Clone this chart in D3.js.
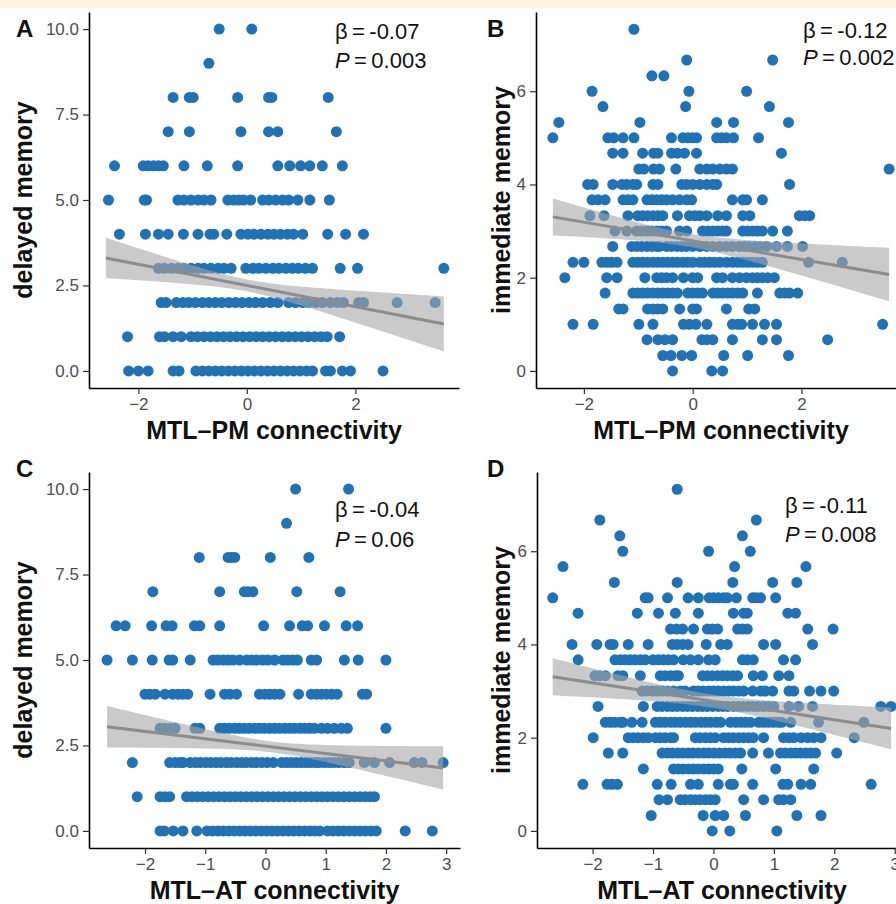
<!DOCTYPE html>
<html>
<head>
<meta charset="utf-8">
<script src="https://cdn.jsdelivr.net/npm/d3@7"></script>
<style>
  body { margin: 0; background: #fff; }
  svg { display: block; }
  text { font-family: "Liberation Sans", Arial, sans-serif; }
</style>
</head>
<body>
<svg id="chart" width="896" height="904"></svg>
<script>
// ---- data: [memory score, [connectivity values...]] per row ----
const delayedPM = [
  [10, [-0.51, 0.09]],
  [9, [-0.70]],
  [8, [-1.36, -1.06, -0.99, -0.17, 0.40, 0.46, 1.50]],
  [7, [-1.45, -1.06, -0.11, 0.40, 0.57, 1.65]],
  [6, [-2.44, -1.91, -1.82, -1.72, -1.63, -1.54, -1.16, -0.73, -0.17, 0.57, 0.79, 0.99, 1.16, 1.39, 1.76]],
  [5, [-2.55, -1.89, -1.85, -1.27, -1.16, -1.03, -0.90, -0.79, -0.66, -0.35, -0.24, -0.15, -0.06, 0.07, 0.29, 0.40, 0.53, 0.66, 0.77, 0.94, 1.16, 1.52]],
  [4, [-2.35, -1.87, -1.63, -1.45, -1.17, -0.90, -0.68, -0.61, -0.37, -0.11, 0.02, 0.13, 0.26, 0.39, 0.50, 0.62, 0.75, 0.86, 1.03, 1.49, 1.82, 2.15]],
  [3, [-1.63, -1.52, -1.39, -1.27, -1.16, -1.03, -0.90, -0.79, -0.66, -0.53, -0.42, -0.29, -0.02, 0.11, 0.22, 0.35, 0.48, 0.59, 0.72, 0.84, 0.95, 1.08, 1.21, 1.72, 2.04, 3.63]],
  [2, [-1.58, -1.49, -1.30, -1.18, -1.07, -0.95, -0.82, -0.70, -0.58, -0.46, -0.33, -0.21, -0.09, 0.04, 0.16, 0.29, 0.43, 0.57, 0.77, 0.90, 1.03, 1.14, 1.27, 1.39, 1.54, 1.67, 1.78, 2.06, 2.15, 2.77, 3.47]],
  [1, [-2.20, -1.61, -1.52, -1.36, -1.21, -1.03, -0.91, -0.79, -0.67, -0.55, -0.43, -0.31, -0.19, -0.07, 0.05, 0.17, 0.29, 0.41, 0.53, 0.65, 0.77, 0.89, 1.01, 1.13, 1.25, 1.37, 1.48, 1.71]],
  [0, [-2.18, -2.00, -1.82, -1.36, -1.25, -0.94, -0.82, -0.70, -0.58, -0.46, -0.34, -0.22, -0.10, 0.02, 0.14, 0.26, 0.38, 0.50, 0.62, 0.74, 0.86, 0.98, 1.10, 1.21, 1.45, 1.54, 1.76, 1.91, 2.51]]
];

const immediatePM = [
  [7.33, [-1.08]],
  [6.67, [-0.11, 1.47]],
  [6.33, [-0.75, -0.53]],
  [6, [-1.85, -0.07, 0.99]],
  [5.67, [-1.65, -0.13, 1.41]],
  [5.33, [-2.46, -0.97, 0.44, 0.75, 1.76]],
  [5, [-2.57, -1.56, -1.45, -1.28, -1.08, -0.39, -0.18, -0.09, 0, 0.07, 0.44, 0.53, 0.62, 0.75, 1.21]],
  [4.67, [-1.47, -1.28, -0.92, -0.72, -0.64, -0.39, -0.28, -0.15, 0.07, 1.63]],
  [4.33, [-0.99, -0.90, -0.72, -0.61, -0.31, 0.13, 0.26, 0.37, 0.50, 0.62, 0.73, 3.61]],
  [4, [-1.93, -1.83, -1.47, -1.30, -1.21, -1.10, -1.03, -0.73, -0.64, -0.20, -0.11, 0, 0.13, 0.26, 0.37, 0.44, 1.78]],
  [3.67, [-1.85, -1.74, -1.61, -1.28, -1.19, -1.10, -0.84, -0.75, -0.66, -0.57, -0.48, -0.37, -0.24, -0.11, -0.02, 0.73, 0.92, 0.99, 1.28]],
  [3.33, [-1.89, -1.63, -1.19, -1.01, -0.92, -0.83, -0.73, -0.64, -0.55, -0.28, -0.06, 0.04, 0.13, 0.26, 0.46, 0.62, 0.92, 1.05, 1.96, 2.06, 2.15]],
  [3, [-1.43, -1.21, -1.03, -0.94, -0.84, -0.75, -0.66, -0.57, -0.48, -0.24, -0.11, 0.18, 0.28, 0.37, 0.46, 0.55, 0.62, 0.92, 1.01, 1.10, 1.19, 1.28, 1.47, 1.74]],
  [2.67, [-1.47, -1.12, -1.03, -0.94, -0.84, -0.75, -0.66, -0.61, -0.48, -0.39, -0.29, -0.20, -0.11, 0, 0.13, 0.26, 0.37, 0.50, 0.62, 0.73, 0.86, 0.95, 1.04, 1.14, 1.23, 1.36, 1.54, 1.74, 2.02]],
  [2.33, [-2.20, -2.00, -1.67, -1.58, -1.49, -1.39, -1.10, -1.01, -0.92, -0.83, -0.73, -0.64, -0.55, -0.46, -0.37, -0.28, -0.18, -0.09, 0, 0.13, 0.22, 0.31, 0.40, 0.50, 0.62, 0.73, 0.83, 0.92, 1.01, 1.10, 1.19, 1.28, 2.13, 2.75]],
  [2, [-2.35, -1.58, -1.39, -0.88, -0.66, -0.57, -0.48, -0.37, -0.17, 0, 0.09, 0.44, 0.55, 0.73, 0.86, 0.99, 1.10, 1.19, 1.28, 1.38, 1.50]],
  [1.67, [-1.61, -1.10, -1.01, -0.92, -0.83, -0.73, -0.64, -0.55, -0.46, -0.37, -0.28, -0.09, 0, 0.09, 0.18, 0.37, 0.46, 0.55, 0.64, 0.73, 0.83, 0.92, 1.19, 1.60, 1.69, 1.78, 1.93]],
  [1.33, [-1.36, -1.28, -0.83, -0.73, -0.64, -0.55, -0.24, 0, 0.07, 0.62, 1.03, 1.14]],
  [1, [-2.20, -1.83, -0.99, -0.73, -0.17, -0.06, 0.06, 0.26, 0.73, 0.83, 0.90, 1.10, 1.32, 1.54, 3.49]],
  [0.67, [-0.84, -0.64, -0.51, -0.37, 0.17, 0.26, 0.37, 0.73, 1.28, 1.54, 2.48]],
  [0.33, [-0.55, -0.40, -0.20, -0.02, 0.57, 1.01, 1.76]],
  [0, [-0.37, 0.35, 0.55]]
];

const delayedAT = [
  [10, [0.50, 1.38]],
  [9, [0.35]],
  [8, [-1.10, -0.62, -0.56, -0.51, 0.08, 0.72]],
  [7, [-1.87, -0.76, -0.35, -0.29, -0.21, 0.52, 1.24]],
  [6, [-2.48, -2.33, -1.89, -1.65, -1.55, -1.18, -1.09, -0.76, -0.03, 0.40, 0.61, 0.70, 0.98, 1.34, 1.53]],
  [5, [-2.63, -2.21, -1.88, -1.60, -1.54, -1.25, -0.87, -0.79, -0.70, -0.62, -0.54, -0.43, -0.31, -0.23, -0.15, -0.05, 0.04, 0.15, 0.29, 0.37, 0.45, 0.53, 0.76, 0.85, 1.31, 1.54, 2.00]],
  [4, [-2.00, -1.92, -1.83, -1.67, -1.54, -1.45, -1.37, -1.29, -0.92, -0.68, -0.59, -0.48, -0.10, -0.01, 0.07, 0.15, 0.24, 0.55, 0.76, 0.85, 0.93, 1.01, 1.10, 1.19, 1.61, 1.68]],
  [3, [-1.75, -1.67, -1.59, -1.50, -1.17, -1.09, -0.76, -0.68, -0.60, -0.51, -0.43, -0.35, -0.27, -0.18, -0.10, -0.02, 0.07, 0.15, 0.23, 0.32, 0.40, 0.48, 0.57, 0.65, 0.73, 0.81, 0.93, 1.03, 1.14, 1.26, 1.36, 2.00]],
  [2, [-2.21, -1.59, -1.50, -1.42, -1.37, -1.25, -1.16, -1.08, -0.99, -0.91, -0.82, -0.74, -0.65, -0.57, -0.48, -0.40, -0.32, -0.23, -0.15, -0.06, 0.03, 0.13, 0.27, 0.35, 0.43, 0.51, 0.59, 0.67, 0.75, 0.83, 0.89, 0.98, 1.06, 1.14, 1.22, 1.31, 1.39, 1.64, 1.81, 2.06, 2.47, 2.60, 2.95]],
  [1, [-2.13, -1.75, -1.67, -1.59, -1.31, -1.22, -1.13, -1.04, -0.95, -0.86, -0.77, -0.68, -0.59, -0.50, -0.41, -0.32, -0.23, -0.14, -0.05, 0.04, 0.13, 0.22, 0.31, 0.40, 0.49, 0.58, 0.67, 0.76, 0.85, 0.94, 1.03, 1.12, 1.21, 1.30, 1.39, 1.48, 1.57, 1.66, 1.74, 1.81]],
  [0, [-1.75, -1.68, -1.53, -1.37, -1.14, -0.97, -0.88, -0.79, -0.70, -0.61, -0.52, -0.43, -0.34, -0.25, -0.16, -0.07, 0.02, 0.11, 0.20, 0.29, 0.38, 0.47, 0.56, 0.65, 0.74, 0.82, 0.90, 1.03, 1.12, 1.21, 1.30, 1.39, 1.48, 1.57, 1.66, 1.75, 1.84, 2.32, 2.77]]
];

const immediateAT = [
  [7.33, [-0.60]],
  [6.67, [-1.88, 0.71]],
  [6.33, [-1.55, 0.48]],
  [6, [-1.50, -0.08, 0.61]],
  [5.67, [-2.49, 0.35, 1.53]],
  [5.33, [-1.64, -0.60, 0.32, 0.98, 1.38]],
  [5, [-2.66, -1.13, -1.08, -0.76, -0.42, -0.25, -0.07, 0, 0.08, 0.17, 0.23, 0.38, 0.65, 0.71, 0.78, 1.03]],
  [4.67, [-2.24, -1.26, -0.91, -0.63, -0.25, 0.33, 0.50, 0.56, 1.23, 1.36]],
  [4.33, [-0.71, -0.61, -0.51, -0.33, -0.10, -0.02, 0.07, 0.40, 0.48, 0.56, 1.56, 1.98]],
  [4, [-2.34, -1.93, -1.71, -1.66, -1.41, -1.08, -0.68, -0.60, -0.51, -0.42, -0.12, 0.12, 0.23, 0.83, 1.03, 1.64]],
  [3.67, [-2.24, -1.63, -1.54, -1.46, -1.38, -1.30, -1.21, -1.13, -1.00, -0.91, -0.83, -0.75, -0.66, -0.50, -0.38, -0.25, -0.08, 0.03, 0.48, 0.56, 0.66, 1.16, 1.36]],
  [3.33, [-1.96, -1.88, -1.79, -1.58, -1.50, -1.21, -0.88, -0.80, -0.71, -0.63, -0.58, -0.18, -0.10, -0.02, 0.07, 0.15, 0.23, 0.32, 0.40, 0.66, 0.81, 1.08, 1.25]],
  [3, [-1.18, -1.10, -1.01, -0.93, -0.85, -0.76, -0.66, -0.55, -0.47, -0.33, -0.25, -0.17, -0.08, 0, 0.08, 0.17, 0.25, 0.33, 0.42, 0.50, 0.65, 0.78, 0.86, 0.98, 1.25, 1.33, 1.59, 1.78, 1.99]],
  [2.67, [-1.91, -1.16, -0.93, -0.85, -0.76, -0.68, -0.60, -0.51, -0.43, -0.35, -0.26, -0.18, -0.10, -0.01, 0.08, 0.16, 0.24, 0.33, 0.41, 0.49, 0.58, 0.66, 0.74, 0.83, 0.91, 1.00, 1.25, 1.41, 1.64, 2.77, 2.94]],
  [2.33, [-1.79, -1.71, -1.63, -1.54, -1.50, -1.35, -1.18, -0.96, -0.88, -0.80, -0.71, -0.63, -0.55, -0.46, -0.38, -0.30, -0.21, -0.13, -0.05, 0.04, 0.12, 0.28, 0.37, 0.45, 0.53, 0.61, 0.75, 0.83, 0.91, 0.99, 1.07, 1.13, 1.28, 1.74, 2.49]],
  [2, [-1.99, -1.41, -1.33, -1.25, -1.16, -1.08, -0.96, -0.88, -0.80, -0.71, -0.66, -0.30, -0.22, -0.13, -0.05, 0.03, 0.17, 0.25, 0.33, 0.42, 0.50, 0.58, 0.66, 0.83, 1.16, 1.25, 1.33, 1.45, 1.56, 1.66, 1.78, 2.33]],
  [1.67, [-1.74, -1.50, -0.85, -0.76, -0.68, -0.59, -0.51, -0.42, -0.34, -0.25, -0.16, -0.08, 0.01, 0.10, 0.19, 0.27, 0.36, 0.45, 0.65, 0.91, 1.11, 1.19, 1.28, 1.36, 1.44, 1.53, 1.61, 1.69, 2.04]],
  [1.33, [-1.16, -0.66, -0.58, -0.50, -0.41, -0.33, -0.25, -0.16, -0.08, 0.00, 0.08, 0.47, 1.03, 1.66]],
  [1, [-2.16, -1.76, -1.68, -1.59, -0.93, -0.70, -0.38, -0.25, 0.08, 0.28, 0.33, 0.65, 1.15, 1.23, 1.45, 1.61, 2.61]],
  [0.67, [-0.90, -0.76, -0.55, -0.47, -0.38, -0.30, -0.22, -0.13, -0.05, 0.03, 0.50, 0.83, 1.08, 1.16, 1.28]],
  [0.33, [-1.03, -0.17, 0.03, 0.17, 0.53, 1.38, 1.78]],
  [0, [-0.02, 0.27, 1.05]]
];

// linear fit: [intercept, slope, xmin, xmax]; band half-width^2 = c0 + c1*(x - xc)^2 -> [xc, c0, c1]
const fitA = [2.50, -0.31, -2.60, 3.63], bandA = [0.00, 0.030, 0.047];
const fitB = [2.79, -0.20, -2.57, 3.61], bandB = [-0.10, 0.020, 0.0224];
const fitC = [2.48, -0.216, -2.63, 2.95], bandC = [0.10, 0.025, 0.046];
const fitD = [2.78, -0.198, -2.66, 2.94], bandD = [-0.05, 0.020, 0.0203];

const statsA = ["-0.07", "0.003"];
const statsB = ["-0.12", "0.002"];
const statsC = ["-0.04", "0.06"];
const statsD = ["-0.11", "0.008"];

const delayedTicks = [0, 2.5, 5, 7.5, 10];
const immediateTicks = [0, 2, 4, 6];
const pmTicks = [-2, 0, 2];
const atTicks = [-2, -1, 0, 1, 2, 3];

// ---- layout ----
const panels = [
  {label: "A", rows: delayedPM, fit: fitA, band: bandA, stats: statsA,
   xDom: [-2.91, 3.91], xRng: [89, 459], yDom: [-0.5, 10.5], yRng: [388, 12],
   xTicks: pmTicks, yTicks: delayedTicks, yFmt: d3.format(".1f"),
   xTitle: "MTL\u2013PM connectivity", yTitle: "delayed memory",
   labelX: 16, labelY: 37, yTitleX: 32, statX: 335, statY: [39, 68]},
  {label: "B", rows: immediatePM, fit: fitB, band: bandB, stats: statsB,
   xDom: [-2.88, 3.92], xRng: [536, 906], yDom: [-0.367, 7.70], yRng: [388, 12],
   xTicks: pmTicks, yTicks: immediateTicks, yFmt: d3.format("d"),
   xTitle: "MTL\u2013PM connectivity", yTitle: "immediate memory",
   labelX: 487, labelY: 37, yTitleX: 510, statX: 803, statY: [38, 65]},
  {label: "C", rows: delayedAT, fit: fitC, band: bandC, stats: statsC,
   xDom: [-2.93, 3.23], xRng: [89, 460], yDom: [-0.5, 10.5], yRng: [848, 472],
   xTicks: atTicks, yTicks: delayedTicks, yFmt: d3.format(".1f"),
   xTitle: "MTL\u2013AT connectivity", yTitle: "delayed memory",
   labelX: 16, labelY: 477, yTitleX: 32, statX: 335, statY: [517, 547]},
  {label: "D", rows: immediateAT, fit: fitD, band: bandD, stats: statsD,
   xDom: [-2.92, 3.22], xRng: [537, 908], yDom: [-0.367, 7.70], yRng: [848, 472],
   xTicks: atTicks, yTicks: immediateTicks, yFmt: d3.format("d"),
   xTitle: "MTL\u2013AT connectivity", yTitle: "immediate memory",
   labelX: 487, labelY: 477, yTitleX: 510, statX: 785, statY: [513, 542]}
];

const POINT = "#1f72b6";
const svg = d3.select("#chart");

// pale strip along the top edge
svg.append("rect").attr("x", 0).attr("y", 0).attr("width", 896).attr("height", 8).attr("fill", "#fdf5df");

panels.forEach(p => {
  const x = d3.scaleLinear().domain(p.xDom).range(p.xRng);
  const y = d3.scaleLinear().domain(p.yDom).range(p.yRng);
  const g = svg.append("g");

  // points
  const pts = p.rows.flatMap(([score, xs]) => xs.map(v => ({x: v, y: score})));
  g.append("g").selectAll("circle")
    .data(pts)
    .join("circle")
      .attr("cx", d => x(d.x))
      .attr("cy", d => y(d.y))
      .attr("r", 5.5)
      .attr("fill", POINT);

  // regression + confidence band
  const [b0, b1, x0, x1] = p.fit;
  const [xc, c0, c1] = p.band;
  const xs = d3.range(61).map(i => x0 + (x1 - x0) * i / 60);
  const fitY = v => b0 + b1 * v;
  const hw = v => Math.sqrt(c0 + c1 * (v - xc) * (v - xc));

  g.append("path")
    .datum(xs)
    .attr("fill", "#a6a6a6")
    .attr("fill-opacity", 0.6)
    .attr("d", d3.area()
      .x(v => x(v))
      .y0(v => y(fitY(v) - hw(v)))
      .y1(v => y(fitY(v) + hw(v))));

  g.append("path")
    .datum([x0, x1])
    .attr("fill", "none")
    .attr("stroke", "#8c8c8c")
    .attr("stroke-width", 3)
    .attr("d", d3.line().x(v => x(v)).y(v => y(fitY(v))));

  // axes
  const xAxis = g.append("g")
    .attr("transform", `translate(0,${p.yRng[0]})`)
    .call(d3.axisBottom(x).tickValues(p.xTicks).tickSize(6).tickSizeOuter(0).tickPadding(4).tickFormat(d3.format("d")));
  const yAxis = g.append("g")
    .attr("transform", `translate(${p.xRng[0]},0)`)
    .call(d3.axisLeft(y).tickValues(p.yTicks).tickSize(6).tickSizeOuter(0).tickPadding(4).tickFormat(p.yFmt));

  [xAxis, yAxis].forEach(ax => {
    ax.select(".domain").attr("stroke", "#000").attr("stroke-width", 1.6);
    ax.selectAll(".tick line").attr("stroke", "#333").attr("stroke-width", 1.2);
    ax.selectAll(".tick text")
      .attr("fill", "#4d4d4d")
      .style("font-size", "17px")
      .style("font-family", "'Liberation Sans', Arial, sans-serif");
  });

  // titles
  g.append("text")
    .attr("x", (p.xRng[0] + Math.min(p.xRng[1], 907)) / 2)
    .attr("y", p.yRng[0] + 51)
    .attr("text-anchor", "middle")
    .attr("font-weight", "bold")
    .attr("font-size", 25)
    .attr("fill", "#111")
    .text(p.xTitle);

  g.append("text")
    .attr("transform", `translate(${p.yTitleX},${(p.yRng[0] + p.yRng[1]) / 2}) rotate(-90)`)
    .attr("text-anchor", "middle")
    .attr("font-weight", "bold")
    .attr("font-size", 25)
    .attr("fill", "#111")
    .text(p.yTitle);

  g.append("text")
    .attr("x", p.labelX).attr("y", p.labelY)
    .attr("font-weight", "bold")
    .attr("font-size", 24)
    .attr("fill", "#111")
    .text(p.label);

  // stats annotation
  g.append("text")
    .attr("x", p.statX).attr("y", p.statY[0])
    .attr("font-size", 22)
    .attr("fill", "#111")
    .text(`\u03b2\u2009=\u2009${p.stats[0]}`);
  const pt = g.append("text")
    .attr("x", p.statX).attr("y", p.statY[1])
    .attr("font-size", 22)
    .attr("fill", "#111");
  pt.append("tspan").attr("font-style", "italic").text("P");
  pt.append("tspan").text(`\u2009=\u2009${p.stats[1]}`);
});
</script>
</body>
</html>
